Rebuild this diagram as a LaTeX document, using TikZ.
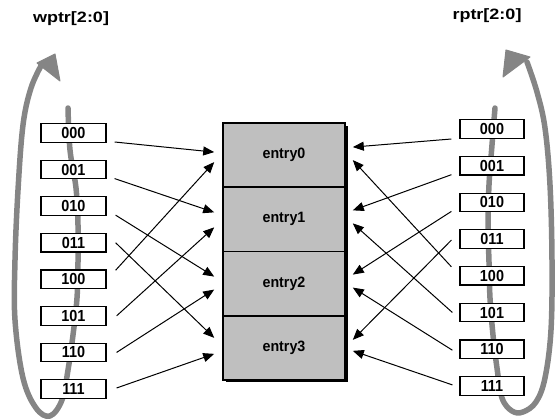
\documentclass[tikz,border=0pt]{standalone}
\usepackage{fontspec}
\setmainfont{Liberation Sans}
\usetikzlibrary{arrows.meta,calc}
\newcommand{\bitlabel}[1]{\scalebox{0.9}[1]{#1}}
\tikzset{
  bitbox/.style={draw, line width=1.2pt, fill=white, minimum width=65pt, minimum height=18.5pt, inner sep=0pt, font=\fontsize{16}{18}\selectfont\bfseries},
  entrybox/.style={draw, line width=1.6pt, fill=black!25, minimum width=122pt, minimum height=64.25pt, inner sep=0pt, font=\fontsize{15}{17}\selectfont\bfseries},
  arr/.style={line width=1pt, -{Triangle[length=11pt,width=9pt]}},
  grayloop/.style={line width=5.5pt, draw=black!48, line cap=round, line join=round},
  grayhead/.style={fill=black!48, draw=black!48, line width=1pt, line join=round},
  title/.style={font=\fontsize{15}{17}\selectfont\bfseries, inner sep=0pt},
}
\begin{document}
\begin{tikzpicture}[x=1pt,y=-1pt]
\useasboundingbox (0,0) rectangle (558,420);
% titles
\node[title] (wt) at (71,19) {\scalebox{1.2}[1]{wptr[2:0]}};
\node[title] (rt) at (487,16) {\scalebox{1.2}[1]{rptr[2:0]}};
% gray wrap-around loops
\draw[grayloop] plot[smooth, tension=0.6] coordinates {(68,108) (70,150) (76,188) (78,225) (78,262) (77,298) (73,335) (68,370) (62,400) (50,416) (36,408) (23,378) (15,320) (15,260) (18,190) (23,125) (31,88) (42,64)};
\fill[grayhead] (55,54) -- (60,81) -- (37,63) -- cycle;
\draw[grayloop] plot[smooth, tension=0.6] coordinates {(495,108) (492,145) (489,185) (488,225) (489,262) (490,298) (493,335) (497,368) (502,398) (512,411) (523,412) (536,402) (545,378) (551,330) (552,260) (550,185) (545,128) (537,92) (527,62)};
\fill[grayhead] (506,50) -- (503,77) -- (530,57) -- cycle;
% write / read pointer values
\foreach \i/\t in {0/000,1/001,2/010,3/011,4/100,5/101,6/110,7/111}{
  \node[bitbox] (l\i) at (73.5,{133+36.57*\i}) {\bitlabel{\t}};
  \node[bitbox, minimum width=64pt] (r\i) at (492,{129+36.7*\i}) {\bitlabel{\t}};
}
% memory
\fill[black] (226,126) rectangle (348,382);
\foreach \k in {0,1,2,3}{
  \node[entrybox] (e\k) at (284,{155.1+64.25*\k}) {\scalebox{0.95}[1]{entry\k}};
}
% left connectors
\draw[arr] ($(l0.east)+(8,9)$)  -- ($(e0.west)+(-8,-3)$);
\draw[arr] ($(l4.east)+(9,-9)$) -- ($(e0.west)+(-8,7)$);
\draw[arr] ($(l1.east)+(8,9)$)  -- ($(e1.west)+(-8,-7)$);
\draw[arr] ($(l5.east)+(10,0)$) -- ($(e1.west)+(-8,8)$);
\draw[arr] ($(l2.east)+(9,9)$)  -- ($(e2.west)+(-8,-7)$);
\draw[arr] ($(l6.east)+(10,0)$) -- ($(e2.west)+(-8,6)$);
\draw[arr] ($(l3.east)+(9,0)$)  -- ($(e3.west)+(-8,-10)$);
\draw[arr] ($(l7.east)+(10,-1)$) -- ($(e3.west)+(-8,6)$);
% right connectors
\draw[arr] ($(r0.west)+(-8,10)$) -- ($(e0.east)+(7,-8)$);
\draw[arr] ($(r4.west)+(-8,-9)$) -- ($(e0.east)+(7,5)$);
\draw[arr] ($(r1.west)+(-8,9)$)  -- ($(e1.east)+(7,-9)$);
\draw[arr] ($(r5.west)+(-7,0)$)  -- ($(e1.east)+(7,4)$);
\draw[arr] ($(r2.west)+(-8,9)$)  -- ($(e2.east)+(7,-9)$);
\draw[arr] ($(r6.west)+(-7,1)$)  -- ($(e2.east)+(7,4)$);
\draw[arr] ($(r3.west)+(-8,1)$)  -- ($(e3.east)+(7,-8)$);
\draw[arr] ($(r7.west)+(-7,-1)$) -- ($(e3.east)+(7,3)$);
\end{tikzpicture}
\end{document}
